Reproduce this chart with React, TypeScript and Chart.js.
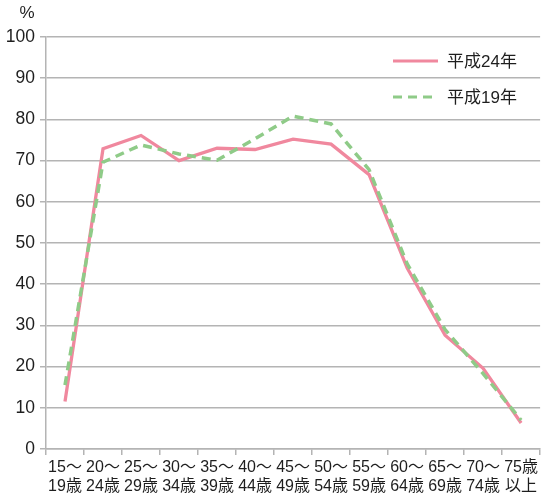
import React, { useEffect, useRef } from "react";
import { Chart, registerables } from "chart.js";

Chart.register(...registerables);

const categories: string[][] = [
  ["15～", "19歳"], ["20～", "24歳"], ["25～", "29歳"], ["30～", "34歳"],
  ["35～", "39歳"], ["40～", "44歳"], ["45～", "49歳"], ["50～", "54歳"],
  ["55～", "59歳"], ["60～", "64歳"], ["65～", "69歳"], ["70～", "74歳"],
  ["75歳", "以上"],
];
const seriesH24Label = "平成24年";
const seriesH24: number[] = [11.5, 72.9, 76.1, 70.0, 73.0, 72.7, 75.2, 74.0, 66.6, 44.0, 27.6, 19.6, 6.3];
const seriesH19Label = "平成19年";
const seriesH19: number[] = [15.5, 69.6, 73.8, 71.6, 70.1, 75.3, 80.8, 78.9, 67.8, 45.0, 29.0, 18.3, 7.0];
const yTicks: number[] = [0, 10, 20, 30, 40, 50, 60, 70, 80, 90, 100];
const yUnit = "%";

const PINK = "#f0889e";
const GREEN = "#8fcb88";
const FONT = '"Liberation Sans", "Noto Sans CJK JP", sans-serif';
const TEXT = "#1e1e1e";
const GRID = "#b4b4b4";

export default function App() {
  const ref = useRef<HTMLCanvasElement | null>(null);
  useEffect(() => {
    document.body.style.margin = "0";
    if (!ref.current) return;
    const overlay = {
      id: "overlay",
      afterDraw(chart: any) {
        const ctx = chart.ctx;
        ctx.save();
        ctx.fillStyle = TEXT;
        ctx.font = `17px ${FONT}`;
        ctx.textAlign = "center";
        ctx.textBaseline = "middle";
        ctx.fillText(yUnit, 27, 13);
        // legend
        const items = [
          { label: seriesH24Label, color: PINK, dash: [] as number[], y: 61 },
          { label: seriesH19Label, color: GREEN, dash: [9, 6], y: 97 },
        ];
        ctx.font = `17px ${FONT}`;
        ctx.textAlign = "left";
        for (const it of items) {
          ctx.beginPath();
          ctx.strokeStyle = it.color;
          ctx.lineWidth = 3.2;
          ctx.setLineDash(it.dash);
          ctx.moveTo(393, it.y);
          ctx.lineTo(438, it.y);
          ctx.stroke();
          ctx.setLineDash([]);
          ctx.fillStyle = TEXT;
          ctx.fillText(it.label, 447, it.y + 1);
        }
        ctx.restore();
      },
    };
    const chart = new Chart(ref.current, {
      type: "line",
      data: {
        labels: categories,
        datasets: [
          {
            label: seriesH19Label,
            data: seriesH19,
            borderColor: GREEN,
            borderWidth: 3.5,
            borderDash: [9, 6],
            pointRadius: 0,
            tension: 0,
            fill: false,
          },
          {
            label: seriesH24Label,
            data: seriesH24,
            borderColor: PINK,
            borderWidth: 3.3,
            pointRadius: 0,
            tension: 0,
            fill: false,
          },
        ],
      },
      options: {
        animation: false,
        responsive: false,
        devicePixelRatio: 1,
        layout: { padding: { top: 37, right: 0, left: 0, bottom: 0 } },
        plugins: { legend: { display: false }, tooltip: { enabled: false } },
        scales: {
          x: {
            type: "category",
            offset: true,
            grid: {
              offset: true,
              drawOnChartArea: false,
              drawTicks: true,
              tickLength: 6,
              color: GRID,
              lineWidth: 1.5,
            },
            border: { color: GRID, width: 1.5 },
            ticks: {
              color: TEXT,
              font: { family: FONT, size: 16, lineHeight: 1.2 },
              padding: 3,
              maxRotation: 0,
              autoSkip: false,
            },
            afterFit(scale: any) {
              scale.height = 52;
            },
          },
          y: {
            min: 0,
            max: 100,
            afterBuildTicks(scale: any) {
              scale.ticks = yTicks.map((v) => ({ value: v }));
            },
            grid: { color: GRID, lineWidth: 1.5, tickLength: 6 },
            border: { color: GRID, width: 1.5 },
            ticks: {
              color: TEXT,
              font: { family: FONT, size: 17.5 },
              padding: 5,
            },
            afterFit(scale: any) {
              scale.width = 46;
            },
          },
        },
      },
      plugins: [overlay],
    });
    return () => chart.destroy();
  }, []);
  return (
    <div style={{ width: 541, height: 501 }}>
      <canvas ref={ref} width={541} height={501} style={{ display: "block" }} />
    </div>
  );
}
